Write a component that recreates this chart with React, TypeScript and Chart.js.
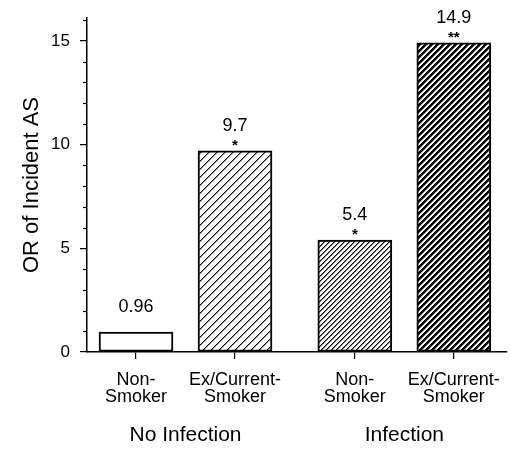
import React, { useEffect, useRef } from "react";
import { Chart, registerables } from "chart.js";

Chart.register(...registerables);

// ---- data ----
const categoryLabels: string[][] = [
  ["Non-", "Smoker"],
  ["Ex/Current-", "Smoker"],
  ["Non-", "Smoker"],
  ["Ex/Current-", "Smoker"],
];
const groupLabels = ["No Infection", "Infection"];
const groupOfCategory = [0, 0, 1, 1];
const orValues = [0.96, 9.7, 5.4, 14.9];
const valueLabels = ["0.96", "9.7", "5.4", "14.9"];
const significance = ["", "*", "*", "**"];
const yMajorTicks = [0, 5, 10, 15];
const yTitle = "OR of Incident AS";

// ---- layout rules ----
const GROUP_GAP = 0.21; // extra spacing between the two groups (in category units)
const positions = orValues.map((_, i) => i + groupOfCategory[i] * GROUP_GAP);
const groupCenters = groupLabels.map((_, g) => {
  const ps = positions.filter((_, i) => groupOfCategory[i] === g);
  return (ps[0] + ps[ps.length - 1]) / 2;
});
const X_MIN = -0.495;
const X_MAX = 3.747;
const FONT = "'Liberation Sans', Arial, Helvetica, sans-serif";

// pixel-exact "/" hatch: shades[d] is the grey level for (x + y) mod period === d
function makeHatch(period: number, shades: number[]): CanvasPattern | string {
  const c = document.createElement("canvas");
  c.width = period;
  c.height = period;
  const ctx = c.getContext("2d");
  if (!ctx) return "#888";
  const img = ctx.createImageData(period, period);
  for (let y = 0; y < period; y++) {
    for (let x = 0; x < period; x++) {
      const d = (x + y) % period;
      const g = d < shades.length ? shades[d] : 255;
      const o = (y * period + x) * 4;
      img.data[o] = g;
      img.data[o + 1] = g;
      img.data[o + 2] = g;
      img.data[o + 3] = 255;
    }
  }
  ctx.putImageData(img, 0, 0);
  return ctx.createPattern(c, "repeat") || "#888";
}

const noSidePadding = (s: any) => {
  s.paddingLeft = 0;
  s.paddingRight = 0;
};

export default function App() {
  const ref = useRef<HTMLCanvasElement>(null);

  useEffect(() => {
    if (!ref.current) return;
    Chart.defaults.font.family = FONT;
    Chart.defaults.color = "#000";

    const fills = [
      "#ffffff",
      makeHatch(8, [0, 150]),
      makeHatch(5, [0, 120]),
      makeHatch(6, [0, 0, 0, 140]),
    ];

    const minorTicks = {
      id: "minorTicks",
      afterDraw(chart: any) {
        const y = chart.scales.y;
        const ctx = chart.ctx;
        ctx.save();
        ctx.strokeStyle = "#000";
        ctx.lineWidth = 1.2;
        for (let v = 1; v <= 16; v++) {
          if (v % 5 === 0) continue;
          const py = Math.round(y.getPixelForValue(v)) + 0.5;
          ctx.beginPath();
          ctx.moveTo(y.right - 4, py);
          ctx.lineTo(y.right, py);
          ctx.stroke();
        }
        ctx.restore();
      },
    };

    const valueLabelPlugin = {
      id: "valueLabels",
      afterDatasetsDraw(chart: any) {
        const meta = chart.getDatasetMeta(0);
        const ctx = chart.ctx;
        ctx.save();
        ctx.fillStyle = "#000";
        ctx.textAlign = "center";
        ctx.textBaseline = "alphabetic";
        meta.data.forEach((bar: any, i: number) => {
          ctx.font = `18px ${FONT}`;
          ctx.fillText(valueLabels[i], bar.x, bar.y - 20);
          if (significance[i]) {
            ctx.font = `bold 15px ${FONT}`;
            ctx.fillText(significance[i], bar.x, bar.y - 1);
          }
        });
        ctx.restore();
      },
    };

    const chart = new Chart(ref.current, {
      type: "bar",
      data: {
        datasets: [
          {
            data: orValues.map((v, i) => ({ x: positions[i], y: v })),
            backgroundColor: fills as any,
            borderColor: "#000",
            borderWidth: 2,
            borderSkipped: false,
            barThickness: 74,
          },
        ],
      },
      options: {
        animation: false,
        responsive: true,
        maintainAspectRatio: false,
        layout: { padding: { top: 18, right: 3, bottom: 0, left: 0 } },
        plugins: {
          legend: { display: false },
          tooltip: { enabled: false },
        },
        scales: {
          x: {
            type: "linear",
            position: "bottom",
            min: X_MIN,
            max: X_MAX,
            offset: false,
            grid: {
              display: true,
              offset: false,
              drawOnChartArea: false,
              drawTicks: true,
              tickLength: 7,
              color: "#000",
              lineWidth: 1.2,
            },
            border: { display: true, color: "#000", width: 1.5 },
            afterBuildTicks: (s: any) => {
              s.ticks = positions.map((v) => ({ value: v }));
            },
            ticks: {
              autoSkip: false,
              maxRotation: 0,
              minRotation: 0,
              padding: 13,
              color: "#000",
              font: { size: 18, lineHeight: 0.92 },
              callback: (_v: any, i: number) => categoryLabels[i],
            },
            afterFit: (s: any) => {
              s.height = 64;
              noSidePadding(s);
            },
          } as any,
          x2: {
            type: "linear",
            position: "bottom",
            min: X_MIN,
            max: X_MAX,
            offset: false,
            grid: { display: false, drawTicks: false },
            border: { display: false },
            afterBuildTicks: (s: any) => {
              s.ticks = groupCenters.map((v) => ({ value: v }));
            },
            ticks: {
              autoSkip: false,
              maxRotation: 0,
              minRotation: 0,
              padding: 7,
              color: "#000",
              font: { size: 21 },
              callback: (_v: any, i: number) => groupLabels[i],
            },
            afterFit: (s: any) => {
              s.height = 33;
              noSidePadding(s);
            },
          } as any,
          y: {
            type: "linear",
            min: 0,
            max: 16.1,
            grid: {
              display: true,
              drawOnChartArea: false,
              drawTicks: true,
              tickLength: 7,
              color: "#000",
              lineWidth: 1.2,
            },
            border: { display: true, color: "#000", width: 1.5 },
            afterBuildTicks: (s: any) => {
              s.ticks = yMajorTicks.map((v) => ({ value: v }));
            },
            ticks: {
              padding: 10,
              color: "#000",
              font: { size: 17 },
            },
            title: {
              display: true,
              text: yTitle,
              color: "#000",
              font: { size: 22 },
              padding: { top: 19, bottom: 0 },
            },
            afterFit: (s: any) => {
              s.width = 87;
              s.paddingTop = 0;
              s.paddingBottom = 0;
            },
          } as any,
        },
      },
      plugins: [minorTicks, valueLabelPlugin],
    });

    return () => chart.destroy();
  }, []);

  return (
    <div style={{ position: "fixed", left: 0, top: 0, width: 510, height: 449, background: "#fff" }}>
      <canvas ref={ref} />
    </div>
  );
}
